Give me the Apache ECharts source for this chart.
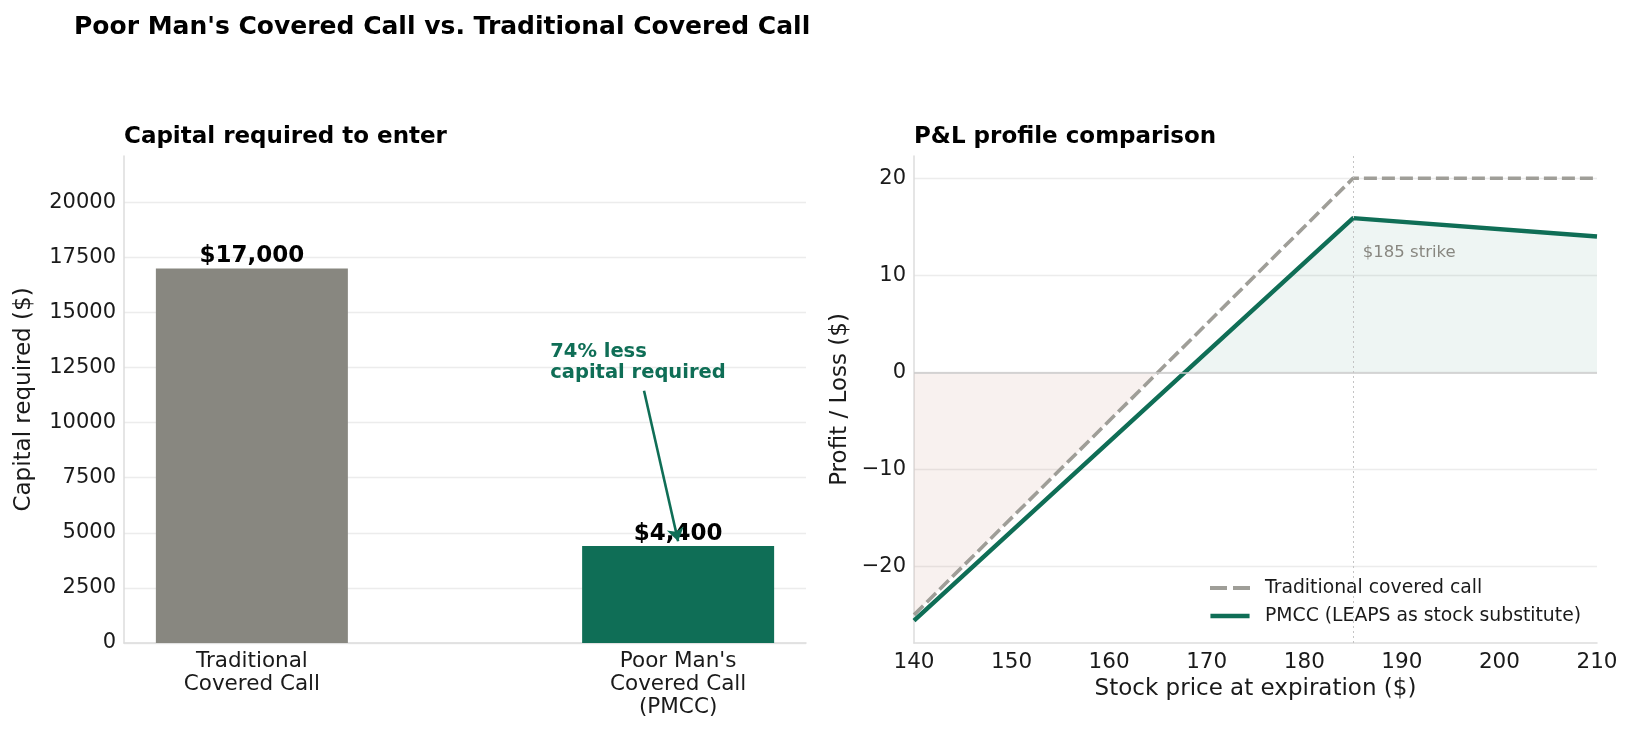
<!DOCTYPE html>
<html>
  <head>
    <meta charset="utf-8" />
    <title>PMCC vs Covered Call</title>
    <script src="https://cdn.jsdelivr.net/npm/echarts@6.0.0/dist/echarts.min.js"></script>
    <style>
      html, body { margin: 0; padding: 0; background: #fff; }
      #main { width: 1632px; height: 733px; }
    </style>
  </head>
  <body>
    <div id="main"></div>
    <script type="text/javascript">
      // capital panel
      var capCategories = ['Traditional\nCovered Call', "Poor Man's\nCovered Call\n(PMCC)"];
      var capPositions = [0, 1];
      var capValues = [17000, 4400];
      var capLabels = ['$17,000', '$4,400'];
      var capColors = ['#888780', '#0f6e56'];

      // P&L panel (key points)
      var tradPrice = [140, 185, 210];
      var tradPnl = [-25, 20, 20];
      var pmccPrice = [140, 185, 210];
      var pmccPnl = [-25.6, 15.9, 14.0];
      var gainPrice = [167.8, 185, 210];
      var gainPnl = [0, 15.9, 14.0];
      var lossPrice = [140, 165];
      var lossPnl = [-25, 0];
      var strike = 185;

      var font = 'DejaVu Sans';
      var ink = '#1a1a1a';
      var green = '#0f6e56';
      var grey = '#9f9e98';

      function pairs(xs, ys) {
        var out = [];
        for (var i = 0; i < xs.length; i++) out.push([xs[i], ys[i]]);
        return out;
      }
      function minus(v) {
        return v < 0 ? '\u2212' + Math.abs(v) : String(v);
      }

      var chart = echarts.init(document.getElementById('main'));

      var barData = [];
      for (var i = 0; i < capValues.length; i++) {
        barData.push({
          value: [capPositions[i], capValues[i]],
          itemStyle: { color: capColors[i] },
          label: { formatter: capLabels[i] }
        });
      }

      var option = {
        animation: false,
        textStyle: { fontFamily: font },
        title: [
          {
            text: "Poor Man's Covered Call vs. Traditional Covered Call",
            left: 74, top: 15, padding: 0,
            textStyle: { fontFamily: font, fontSize: 25, fontWeight: 'bold', color: '#000' }
          },
          {
            text: 'Capital required to enter',
            left: 124, top: 126, padding: 0,
            textStyle: { fontFamily: font, fontSize: 23, fontWeight: 'bold', color: '#000' }
          },
          {
            text: 'P&L profile comparison',
            left: 914, top: 126, padding: 0,
            textStyle: { fontFamily: font, fontSize: 23, fontWeight: 'bold', color: '#000' }
          }
        ],
        legend: {
          data: [
            { name: 'Traditional covered call', icon: 'path://M0,0H17V4H0Z M23,0H40V4H23Z' },
            { name: 'PMCC (LEAPS as stock substitute)', icon: 'path://M0,0H40V4.6H0Z' }
          ],
          orient: 'vertical',
          left: 1210, top: 577, padding: 0,
          itemWidth: 40, itemHeight: 4.5, itemGap: 6,
          textStyle: { fontFamily: font, fontSize: 18.8, color: ink, lineHeight: 22, padding: [0, 0, 0, 10] }
        },
        grid: [
          { left: 124, right: 826, top: 156, bottom: 90 },
          { left: 914, right: 35, top: 156, bottom: 90 }
        ],
        xAxis: [
          {
            gridIndex: 0, type: 'value', min: -0.3, max: 1.3,
            axisLine: { onZero: false, lineStyle: { color: '#dddddd', width: 1.5 } },
            axisTick: { show: false },
            splitLine: { show: false },
            axisLabel: {
              customValues: capPositions,
              formatter: function (v) { return capCategories[Math.round(v)]; },
              fontFamily: font, fontSize: 21.5, color: ink, lineHeight: 23, margin: 7
            }
          },
          {
            gridIndex: 1, type: 'value', min: 140, max: 210, interval: 10,
            name: 'Stock price at expiration ($)', nameLocation: 'middle', nameGap: 35,
            nameTextStyle: { fontFamily: font, fontSize: 23, color: ink },
            axisLine: { onZero: false, lineStyle: { color: '#dddddd', width: 1.5 } },
            axisTick: { show: false },
            splitLine: { show: false },
            axisLabel: { fontFamily: font, fontSize: 21.5, color: ink, margin: 8 }
          }
        ],
        yAxis: [
          {
            gridIndex: 0, type: 'value', min: 0, max: 22100, interval: 2500,
            name: 'Capital required ($)', nameLocation: 'middle', nameGap: 88,
            nameTextStyle: { fontFamily: font, fontSize: 23, color: ink },
            axisLine: { show: true, onZero: false, lineStyle: { color: '#dddddd', width: 1.5 } },
            axisTick: { show: false },
            splitLine: { show: true, showMaxLine: false, lineStyle: { color: '#ececec', width: 1.3 } },
            axisLabel: {
              showMaxLabel: false,
              formatter: function (v) { return String(v); },
              fontFamily: font, fontSize: 21, color: ink, margin: 8
            }
          },
          {
            gridIndex: 1, type: 'value', min: -27.9, max: 22.3,
            name: 'Profit / Loss ($)', nameLocation: 'middle', nameGap: 62,
            nameTextStyle: { fontFamily: font, fontSize: 23, color: ink },
            axisLine: { show: true, onZero: false, lineStyle: { color: '#dddddd', width: 1.5 } },
            axisTick: { show: false },
            splitLine: { show: true, showMaxLine: false, showMinLine: false, lineStyle: { color: '#ececec', width: 1.3 } },
            axisLabel: {
              showMaxLabel: false, showMinLabel: false,
              formatter: minus,
              fontFamily: font, fontSize: 21, color: ink, margin: 8
            }
          }
        ],
        series: [
          {
            type: 'bar', xAxisIndex: 0, yAxisIndex: 0,
            barWidth: 192,
            data: barData,
            label: {
              show: true, position: 'top', distance: 1,
              fontFamily: font, fontSize: 23, fontWeight: 'bold', color: '#000'
            }
          },
          {
            // annotation text + arrow
            type: 'scatter', xAxisIndex: 0, yAxisIndex: 0,
            symbolSize: 0, silent: true, z: 5,
            itemStyle: { opacity: 1 },
            data: [[0.70, 12740]],
            label: {
              show: true, position: 'right', distance: 0,
              formatter: '74% less\ncapital required',
              fontFamily: font, fontSize: 19.5, fontWeight: 'bold', color: green,
              lineHeight: 21, align: 'left'
            },
            markLine: {
              silent: true, animation: false, z: 10,
              symbol: ['none', 'arrow'], symbolSize: 13,
              label: { show: false },
              itemStyle: { color: green, opacity: 1 },
              lineStyle: { color: green, width: 2.6, type: 'solid', opacity: 1 },
              data: [[{ coord: [0.92, 11450] }, { coord: [1.0, 4620] }]]
            }
          },
          {
            name: 'loss zone', type: 'line', xAxisIndex: 1, yAxisIndex: 1,
            data: pairs(lossPrice, lossPnl),
            symbol: 'none', lineStyle: { width: 0 },
            areaStyle: { color: 'rgba(153,60,29,0.1)', origin: 'auto' },
            silent: true, z: 1,
            markLine: {
              silent: true, symbol: 'none', label: { show: false },
              data: [
                { yAxis: 0, lineStyle: { color: '#cccccc', width: 1.6, type: 'solid' } },
                { xAxis: strike, lineStyle: { color: '#c4c4c4', width: 1, type: [2, 3] } }
              ]
            }
          },
          {
            name: 'gain zone', type: 'line', xAxisIndex: 1, yAxisIndex: 1,
            data: pairs(gainPrice, gainPnl),
            symbol: 'none', lineStyle: { width: 0 },
            areaStyle: { color: 'rgba(15,110,86,0.1)', origin: 'auto' },
            silent: true, z: 1
          },
          {
            name: 'Traditional covered call', type: 'line', xAxisIndex: 1, yAxisIndex: 1,
            data: pairs(tradPrice, tradPnl),
            symbol: 'none', z: 3,
            itemStyle: { color: grey },
            lineStyle: { color: grey, width: 3.6, type: [13, 5] }
          },
          {
            name: 'PMCC (LEAPS as stock substitute)', type: 'line', xAxisIndex: 1, yAxisIndex: 1,
            data: pairs(pmccPrice, pmccPnl),
            symbol: 'none', z: 4,
            itemStyle: { color: green },
            lineStyle: { color: green, width: 4.4 }
          },
          {
            type: 'scatter', xAxisIndex: 1, yAxisIndex: 1,
            symbolSize: 0, silent: true,
            itemStyle: { opacity: 1 },
            data: [[186, 12.3]],
            label: {
              show: true, position: 'right', distance: 0,
              formatter: '$' + strike + ' strike',
              fontFamily: font, fontSize: 16.5, color: '#888780'
            }
          }
        ]
      };
      chart.setOption(option);
    </script>
  </body>
</html>
